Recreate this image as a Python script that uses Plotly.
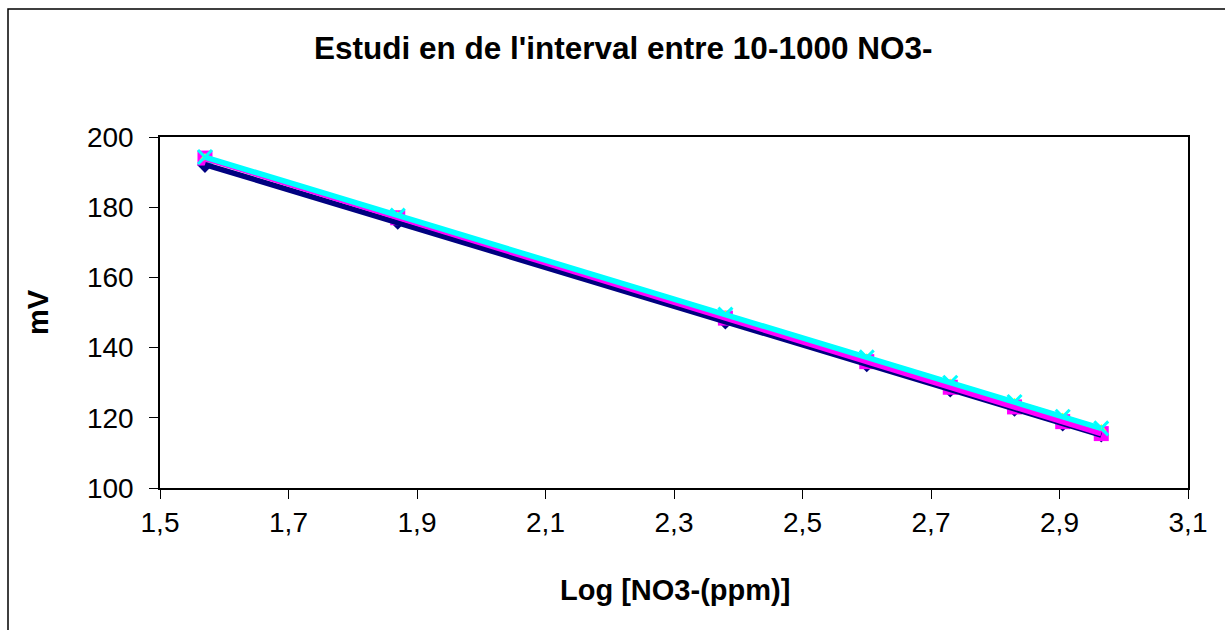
import numpy as np
import plotly.graph_objects as go

# Log of nitrate concentration (ppm) and electrode potential readings (mV)
log_no3 = [1.57, 1.87, 2.38, 2.60, 2.73, 2.83, 2.905, 2.965]
mv_serie1 = [192.0, 175.8, 147.4, 135.2, 128.0, 122.5, 118.3, 115.2]
mv_serie2 = [194.0, 177.0, 148.4, 136.0, 128.7, 123.1, 118.9, 115.5]
mv_serie3 = [194.0, 177.4, 149.2, 137.0, 129.8, 124.3, 120.1, 116.8]
mv_serie4 = [194.3, 177.6, 149.4, 137.2, 130.0, 124.5, 120.3, 117.0]

x_ticks = [1.5, 1.7, 1.9, 2.1, 2.3, 2.5, 2.7, 2.9, 3.1]
y_ticks = [100, 120, 140, 160, 180, 200]

title_text = "Estudi en de l'interval entre 10-1000 NO3-"
x_title = "Log [NO3-(ppm)]"
y_title = "mV"

series = {
    "s1": (mv_serie1, "#000080", "diamond", 12),
    "s2": (mv_serie2, "#FF00FF", "square", 15),
    "s3": (mv_serie3, "#FFFF00", "triangle-up", 10),
    "s4": (mv_serie4, "#00FFFF", "x-thin-open", 14),
}

fig = go.Figure()

# markers
for key in ["s1", "s2", "s3", "s4"]:
    ys, col, sym, size = series[key]
    fig.add_trace(go.Scatter(
        x=log_no3, y=ys, mode="markers",
        marker=dict(symbol=sym, size=size, color=col,
                    line=dict(width=3 if sym.startswith("x") else 0, color=col)),
        showlegend=False, hoverinfo="skip"))

# linear trendlines over the data range
xs = np.array([min(log_no3), max(log_no3)])
for key in ["s3", "s1", "s2", "s4"]:
    ys, col, sym, size = series[key]
    m, b = np.polyfit(log_no3, ys, 1)
    fig.add_trace(go.Scatter(
        x=xs, y=m * xs + b, mode="lines",
        line=dict(color=col, width=5.5),
        showlegend=False, hoverinfo="skip"))

L, R, T, B = 160, 37, 137, 142
W, H = 1225 - L - R, 630 - T - B


def px_x(p):
    return (p - L) / W


def px_y(p):
    return (630 - B - p) / H


axis_common = dict(showline=True, linecolor="black", linewidth=1.5, mirror=True,
                   ticks="outside", ticklen=9, tickcolor="black", tickwidth=1.2,
                   showgrid=False, zeroline=False, tickfont=dict(size=28))

fig.update_layout(
    width=1225, height=630,
    margin=dict(l=L, r=R, t=T, b=B),
    paper_bgcolor="white", plot_bgcolor="white",
    separators=",.",
    font=dict(family="Liberation Sans, Arial, sans-serif", color="black", size=28),
    xaxis=dict(range=[1.5, 3.1], tickvals=x_ticks, tickformat=".1f", **axis_common),
    yaxis=dict(range=[100, 200], tickvals=y_ticks, ticklabelstandoff=10, **axis_common),
    annotations=[
        dict(text="<b>" + title_text + "</b>", xref="paper", yref="paper",
             x=px_x(623), y=px_y(48), xanchor="center", yanchor="middle",
             showarrow=False, font=dict(size=31.5)),
        dict(text="<b>" + x_title + "</b>", xref="paper", yref="paper",
             x=px_x(675), y=px_y(590), xanchor="center", yanchor="middle",
             showarrow=False, font=dict(size=29)),
        dict(text="<b>" + y_title + "</b>", xref="paper", yref="paper",
             x=px_x(38), y=px_y(312), xanchor="center", yanchor="middle",
             textangle=-90, showarrow=False, font=dict(size=29)),
    ],
    shapes=[dict(type="rect", xref="paper", yref="paper",
                 x0=px_x(8), x1=px_x(1240),
                 y0=px_y(645), y1=px_y(9),
                 line=dict(color="black", width=1.5), layer="below")],
)

fig.write_html("out.html")
